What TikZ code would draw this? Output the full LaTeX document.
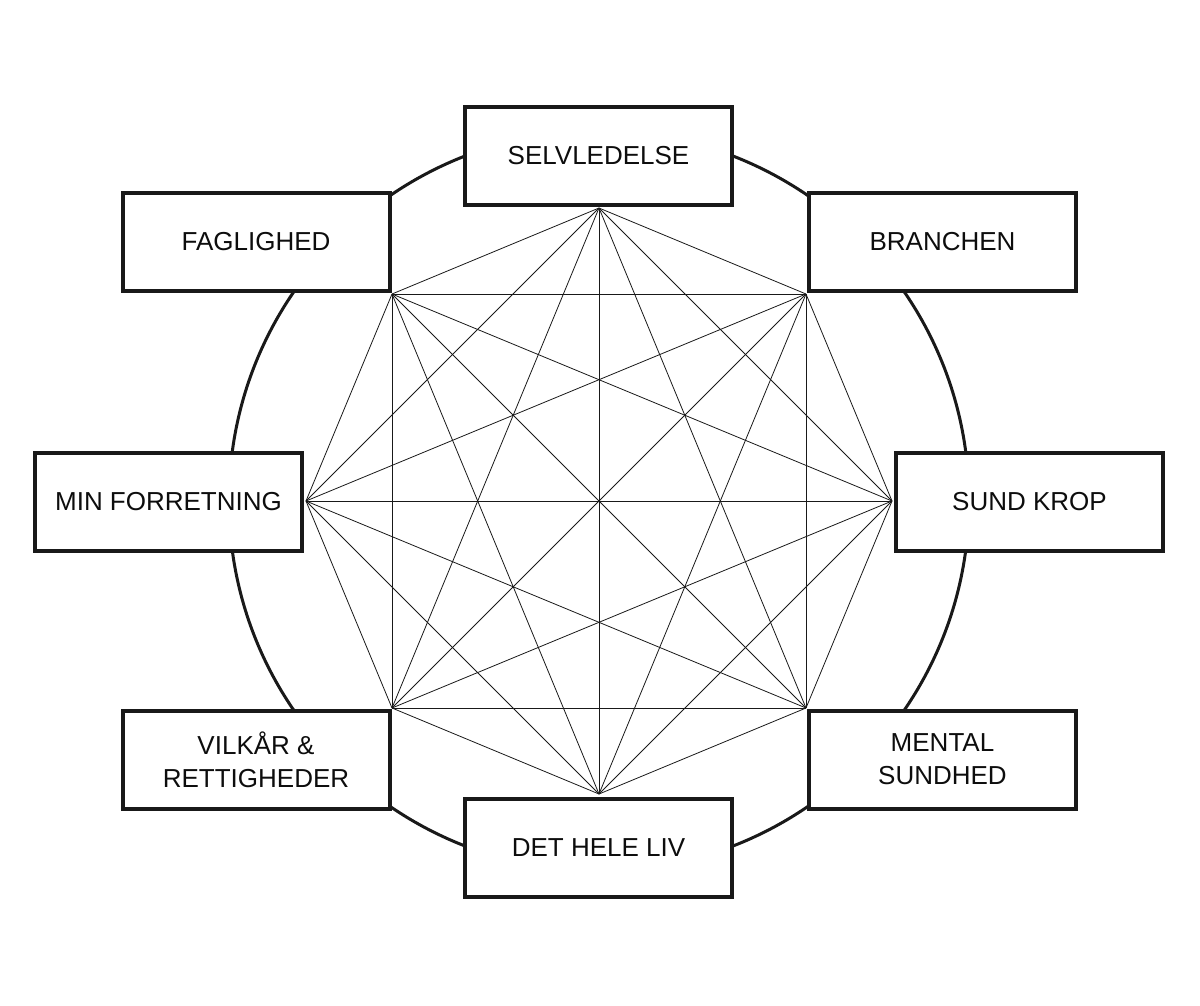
\documentclass[tikz,border=0pt]{standalone}
\usepackage{fontspec}
\setmainfont{Liberation Sans}
\begin{document}
\begin{tikzpicture}[x=1pt,y=-1pt,
  lbox/.style={draw=black!90,line width=4pt,fill=white,minimum width=267pt,minimum height=98pt,
    inner sep=0pt,align=center,font=\fontsize{26}{33}\selectfont,text=black!95},
  thin/.style={line width=0.8pt,black!90},
  ring/.style={draw=black!90,line width=3pt}]
\useasboundingbox (0,0) rectangle (1200,1005);
\node[circle,ring,minimum size=740pt,inner sep=0pt] (ringc) at (599,501) {};
% octagon points
\coordinate (p0) at (599,208);
\coordinate (p1) at (806,294);
\coordinate (p2) at (892,501);
\coordinate (p3) at (806,708);
\coordinate (p4) at (599,794);
\coordinate (p5) at (392,708);
\coordinate (p6) at (306,501);
\coordinate (p7) at (392,294);
\foreach \i in {0,...,7}{
  \foreach \j in {0,...,7}{
    \ifnum\i<\j
      \draw[thin] (p\i) -- (p\j);
    \fi
  }
}
\node[lbox] (sel) at (598.5,155.5) {SELVLEDELSE};
\node[lbox] (fag) at (256,242) {FAGLIGHED};
\node[lbox] (bra) at (942.5,242) {BRANCHEN};
\node[lbox] (min) at (168.5,501.5) {MIN FORRETNING};
\node[lbox] (sun) at (1029.5,501.5) {SUND KROP};
\node[lbox] (vil) at (256,759.5) {VILKÅR \&\\RETTIGHEDER};
\node[lbox] (men) at (942.5,759.5) {MENTAL\\SUNDHED};
\node[lbox] (det) at (598.5,847.5) {DET HELE LIV};
\end{tikzpicture}
\end{document}
